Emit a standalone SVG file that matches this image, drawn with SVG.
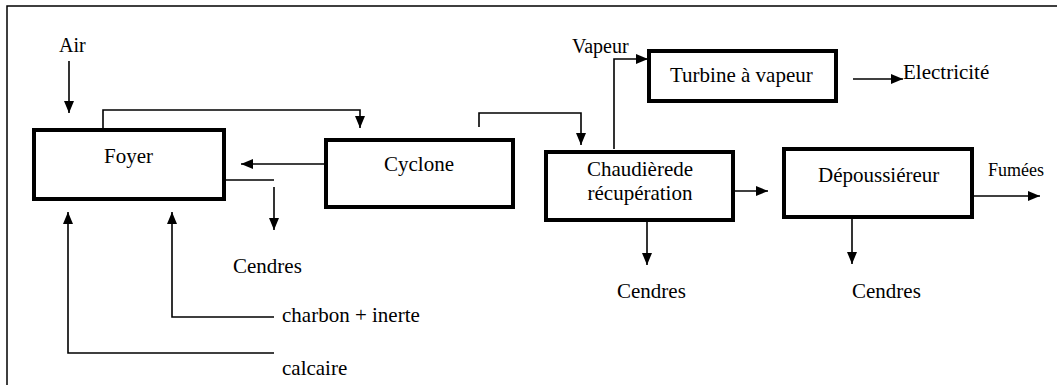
<svg xmlns="http://www.w3.org/2000/svg" width="1057" height="385" viewBox="0 0 1057 385">
<style>
.box{fill:#fff;stroke:#000;stroke-width:4}
text{font-family:'Liberation Serif','Times New Roman','DejaVu Serif',serif;font-size:21px;fill:#000}
.sm{font-size:18px}
.cn{fill:none;stroke:#000;stroke-width:1.6}
.ar{marker-end:url(#ah)}
.frame{fill:none;stroke:#000;stroke-width:1.5}
</style>
<defs>
<marker id="ah" markerUnits="userSpaceOnUse" markerWidth="12" markerHeight="10" viewBox="0 0 12 10" refX="12" refY="5" orient="auto">
<path d="M0,0 L12,5 L0,10 z" fill="#000"/>
</marker>
</defs>
<rect width="1057" height="385" fill="#fff"/>
<path class="frame" d="M7,385 V6 H1057"/>

<g id="connectors">
<path class="cn ar" d="M69,61 V113"/>
<path class="cn ar" d="M103,128 V110 H360 V128"/>
<path class="cn ar" d="M324,164 H241"/>
<path class="cn" d="M226,180 H274"/>
<path class="cn ar" d="M274,187 V230"/>
<path class="cn ar" d="M274,317 H172 V212"/>
<path class="cn ar" d="M274,353 H68 V212"/>
<path class="cn ar" d="M479,127 V113 H581 V145"/>
<path class="cn ar" d="M614,149 V59 H648"/>
<path class="cn ar" d="M853,79 H903"/>
<path class="cn ar" d="M735,191 H768"/>
<path class="cn ar" d="M647,220 V265"/>
<path class="cn ar" d="M852,217 V264"/>
<path class="cn ar" d="M974,196 H1040"/>
</g>

<g id="foyer">
<rect class="box" x="34" y="130" width="190" height="69"/>
<text x="104" y="163" font-family="Liberation Serif, serif">Foyer</text>
</g>
<g id="cyclone">
<rect class="box" x="326" y="140" width="187" height="67"/>
<text x="384" y="171" font-family="Liberation Serif, serif">Cyclone</text>
</g>
<g id="chaudiere">
<rect class="box" x="546" y="152" width="187" height="68"/>
<text x="640" y="176" text-anchor="middle">Chaudièrede</text>
<text x="640" y="200" text-anchor="middle">récupération</text>
</g>
<g id="turbine">
<rect class="box" x="649" y="51" width="187" height="50"/>
<text x="670" y="82">Turbine à vapeur</text>
</g>
<g id="depoussiereur">
<rect class="box" x="784" y="149" width="188" height="68"/>
<text x="818" y="182">Dépoussiéreur</text>
</g>

<g id="labels">
<text x="59" y="52" style="font-size:20px">Air</text>
<text x="572" y="53" style="font-size:20px">Vapeur</text>
<text x="903" y="79">Electricité</text>
<text class="sm" x="988" y="176">Fumées</text>
<text x="233" y="273">Cendres</text>
<text x="617" y="298">Cendres</text>
<text x="852" y="298">Cendres</text>
<text x="282" y="322">charbon + inerte</text>
<text x="282" y="375">calcaire</text>
</g>
</svg>
